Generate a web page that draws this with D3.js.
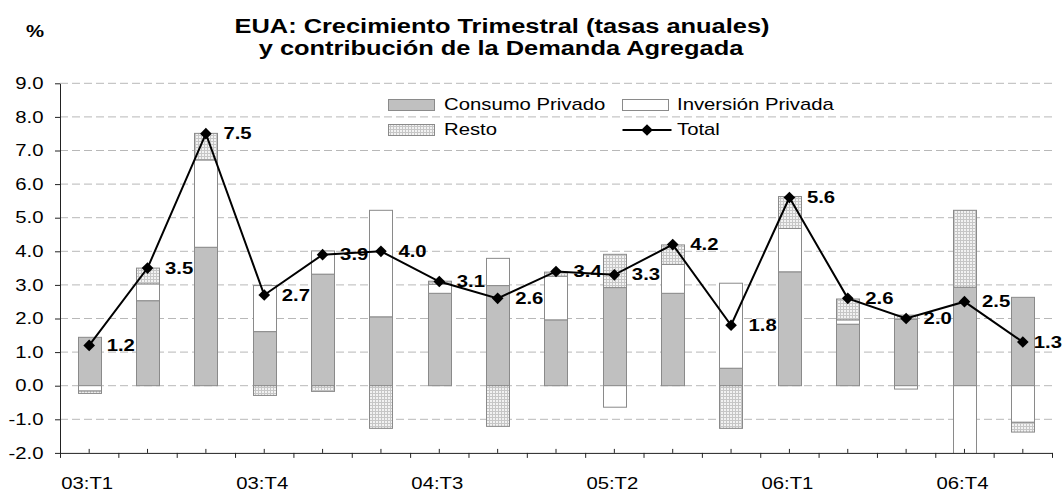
<!DOCTYPE html>
<html><head><meta charset="utf-8">
<script src="https://cdn.jsdelivr.net/npm/d3@7"></script>
<style>
html,body{margin:0;padding:0;background:#fff;}
svg{display:block;font-family:"Liberation Sans",Arial,sans-serif;}
</style></head>
<body>
<svg id="chart" width="1064" height="492"></svg>
<script>
const categories = ["03:T1","03:T2","03:T3","03:T4","04:T1","04:T2","04:T3","04:T4","05:T1","05:T2","05:T3","05:T4","06:T1","06:T2","06:T3","06:T4","07:T1"];
const consumo   = [1.44, 2.53, 4.12, 1.61, 3.32, 2.05, 2.75, 2.98, 1.96, 2.92, 2.75, 0.52, 3.39, 1.83, 1.98, 2.93, 2.63];
const inversion = [-0.16, 0.50, 2.60, 1.37, 0.69, 3.17, 0.27, 0.81, 1.30, -0.64, 0.86, 2.53, 1.29, 0.13, -0.10, -2.72, -1.09];
const resto     = [-0.07, 0.47, 0.79, -0.29, -0.17, -1.27, 0.09, -1.21, 0.12, 0.99, 0.58, -1.27, 0.95, 0.62, 0.12, 2.29, -0.29];
const total     = [1.2, 3.5, 7.5, 2.7, 3.9, 4.0, 3.1, 2.6, 3.4, 3.3, 4.2, 1.8, 5.6, 2.6, 2.0, 2.5, 1.3];
const yTicks    = [-2, -1, 0, 1, 2, 3, 4, 5, 6, 7, 8, 9];
const xLabelEvery = 3;
const seriesNames = ["Consumo Privado", "Inversión Privada", "Resto", "Total"];
const titleLines = ["EUA: Crecimiento Trimestral (tasas anuales)", "y contribución de la Demanda Agregada"];
const unitLabel = "%";

const SX = 1.27; // horizontal text stretch seen in the reference
const svg = d3.select("#chart");
const L = 60, R = 1052, T = 83.3, B = 452.9;

const defs = svg.append("defs");
const pat = defs.append("pattern").attr("id","dots").attr("width",3).attr("height",3).attr("patternUnits","userSpaceOnUse");
pat.append("rect").attr("width",3).attr("height",3).attr("fill","#f2f2f2");
pat.append("rect").attr("width",3).attr("height",1).attr("fill","#c6c6c6");
pat.append("rect").attr("width",1).attr("height",3).attr("fill","#c6c6c6");
defs.append("clipPath").attr("id","plotclip").append("rect")
  .attr("x",L).attr("y",T-2).attr("width",R-L).attr("height",B-T+2);

const x = d3.scaleBand().domain(categories).range([L,R]).paddingInner(0.6).paddingOuter(0.3);
const y = d3.scaleLinear().domain([-2,9]).range([B,T]);

// grid
svg.append("g").selectAll("line").data(yTicks.filter(v => v > -2)).join("line")
  .attr("x1",L).attr("x2",R).attr("y1",d=>y(d)).attr("y2",d=>y(d))
  .attr("stroke","#b8b8b8").attr("stroke-width",1).attr("stroke-dasharray","8,4");

// stacked bars
const rows = categories.map((c,i)=>({cat:c, c:consumo[i], i:inversion[i], r:resto[i]}));
const keys = ["c","i","r"];
const fills = {c:"#c0c0c0", i:"#ffffff", r:"url(#dots)"};
const stacked = d3.stack().keys(keys).offset(d3.stackOffsetDiverging)(rows);
const barsG = svg.append("g").attr("clip-path","url(#plotclip)");
stacked.forEach(s => {
  barsG.append("g").selectAll("rect").data(s).join("rect")
    .attr("x", d => Math.round(x(d.data.cat)) + 0.5)
    .attr("width", Math.round(x.bandwidth()))
    .attr("y", d => y(Math.max(d[0],d[1])))
    .attr("height", d => Math.abs(y(d[0]) - y(d[1])))
    .attr("fill", fills[s.key])
    .attr("stroke","#8a8a8a").attr("stroke-width",1);
});

// axes
const yAxis = svg.append("g").attr("transform",`translate(${L},0)`)
  .call(d3.axisLeft(y).tickValues(yTicks).tickSize(5).tickSizeOuter(0).tickFormat(v => v.toFixed(1)));
yAxis.selectAll("path,line").attr("stroke","#222");
yAxis.selectAll("text").attr("font-size",16).attr("fill","#000").attr("font-family","Liberation Sans, Arial, sans-serif")
  .attr("x", -16.5/SX).attr("transform",`scale(${SX},1)`);

const xB = d3.scaleLinear().domain([0,categories.length]).range([L,R]);
const xAxisB = svg.append("g").attr("transform",`translate(0,${B})`)
  .call(d3.axisBottom(xB).tickValues(d3.range(0,categories.length+1)).tickSize(5).tickSizeOuter(0).tickFormat(""));
xAxisB.selectAll("path,line").attr("stroke","#222");

const xAxis = svg.append("g").attr("transform",`translate(0,${B})`)
  .call(d3.axisBottom(x).tickSize(-4).tickSizeOuter(0).tickPadding(0)
    .tickFormat((d,i) => i % xLabelEvery === 0 ? d : ""));
xAxis.select(".domain").remove();
xAxis.selectAll("line").attr("stroke","#222");
xAxis.selectAll("text").attr("font-size",16).attr("fill","#000").attr("font-family","Liberation Sans, Arial, sans-serif")
  .attr("y",0).attr("dy",0)
  .attr("transform",`translate(-2,${489-B}) scale(${SX},1)`);

// total line
const cx = d => x(d) + x.bandwidth()/2;
const line = d3.line().x((d,i)=>cx(categories[i])).y(d=>y(d));
svg.append("path").datum(total).attr("d",line).attr("fill","none").attr("stroke","#000").attr("stroke-width",2);
const diamond = d3.symbol(d3.symbolSquare, 68);
svg.append("g").selectAll("path").data(total).join("path")
  .attr("d", diamond)
  .attr("transform",(d,i)=>`translate(${cx(categories[i])},${y(d)}) rotate(45)`)
  .attr("fill","#000");

// data labels
function sText(parent, tx, ty, str, opts) {
  const g = parent.append("g").attr("transform",`translate(${tx},${ty}) scale(${SX},1)`);
  const t = g.append("text").text(str)
    .attr("font-size",opts.size).attr("font-weight",opts.weight||"normal")
    .attr("text-anchor",opts.anchor||"start").attr("fill","#000");
  if (opts.dy) t.attr("dy",opts.dy);
  return {g,t};
}
const lblG = svg.append("g");
total.forEach((v,i) => {
  const str = v.toFixed(1);
  let px = cx(categories[i]) + 17.5;
  const o = sText(lblG, px, y(v), str, {size:16, weight:"bold", dy:"0.35em"});
  const w = o.t.node().getComputedTextLength()*SX;
  if (px + w > 1062) {
    px = 1062 - w;
    o.g.attr("transform",`translate(${px},${y(v)}) scale(${SX},1)`);
  }
});

// title
sText(svg, 502, 33, titleLines[0], {size:20, weight:"bold", anchor:"middle"});
sText(svg, 501, 55, titleLines[1], {size:20, weight:"bold", anchor:"middle"});
sText(svg, 35, 37, unitLabel, {size:16, weight:"bold", anchor:"middle"});

// legend
const lg = svg.append("g");
lg.append("rect").attr("x",388.5).attr("y",99.5).attr("width",46).attr("height",11).attr("fill",fills.c).attr("stroke","#8a8a8a");
lg.append("rect").attr("x",622.5).attr("y",99.5).attr("width",46).attr("height",11).attr("fill",fills.i).attr("stroke","#8a8a8a");
lg.append("rect").attr("x",388.5).attr("y",124.5).attr("width",46).attr("height",11).attr("fill",fills.r).attr("stroke","#8a8a8a");
lg.append("line").attr("x1",622.5).attr("x2",671.5).attr("y1",130).attr("y2",130).attr("stroke","#000").attr("stroke-width",2);
lg.append("path").attr("d",diamond).attr("transform","translate(647,130) rotate(45)").attr("fill","#000");
sText(lg, 444, 110, seriesNames[0], {size:16});
sText(lg, 677, 110, seriesNames[1], {size:16});
sText(lg, 444, 135, seriesNames[2], {size:16});
sText(lg, 677, 135, seriesNames[3], {size:16});
</script>
</body></html>
